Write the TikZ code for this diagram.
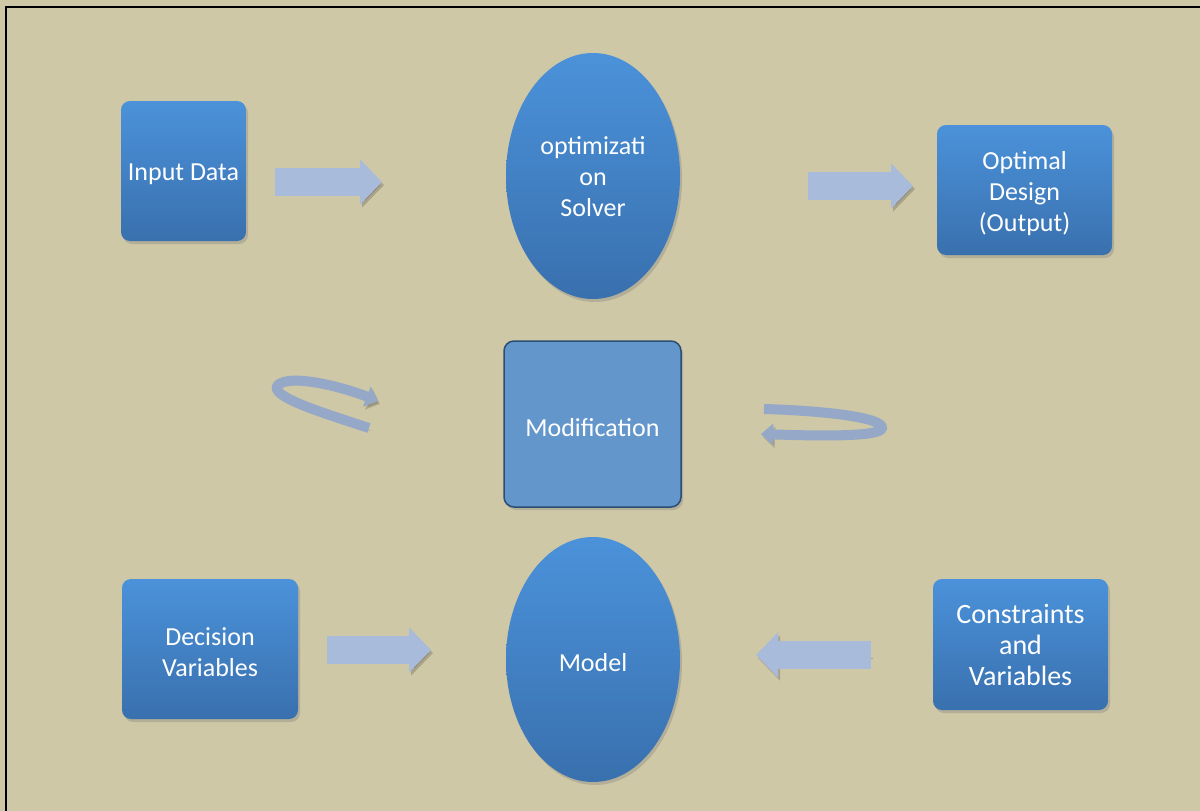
\documentclass[tikz,border=0pt]{standalone}
\usepackage{fontspec}
\setmainfont{Carlito}
\usetikzlibrary{shadows,arrows.meta,shapes.geometric}
\definecolor{bgc}{HTML}{CEC8A6}
\definecolor{boxtop}{HTML}{4B92DA}
\definecolor{boxbot}{HTML}{3970AE}
\definecolor{arrc}{HTML}{A8BBDA}
\definecolor{arrd}{HTML}{95A8C8}
\definecolor{modfill}{HTML}{6396CB}
\definecolor{modline}{HTML}{2C4D74}
\tikzset{
  shade/.style={drop shadow={opacity=0.35,shadow xshift=2pt,shadow yshift=-3pt}},
  txt/.style={text=white,font=\fontsize{26}{31}\selectfont,align=center,inner sep=0pt},
  box/.style={rectangle,rounded corners=9pt,top color=boxtop,bottom color=boxbot,draw=none,shade,inner sep=0pt},
  oval/.style={ellipse,top color=boxtop,bottom color=boxbot,draw=none,shade,inner sep=0pt,
    minimum width=174pt,minimum height=246pt},
  modbox/.style={rectangle,rounded corners=10pt,fill=modfill,draw=modline,line width=1.5pt,shade,inner sep=0pt},
  blockarr/.style={draw=arrc,line width=28pt,-{Triangle[length=22pt,width=44pt]},
    preaction={draw=black,opacity=0.18,transform canvas={shift={(2pt,-3pt)}}}},
  looparr/.style={draw=arrd,line width=10pt,line cap=butt,-{Triangle[length=12pt,width=21pt]},
    preaction={draw=black,opacity=0.15,transform canvas={shift={(2pt,-3pt)}}}},
}
\begin{document}
\begin{tikzpicture}[x=1pt,y=-1pt]
\useasboundingbox (0,0) rectangle (1200,811);
\fill[bgc] (0,0) rectangle (1200,811);
\draw[black,line width=2pt] (1200,7) -- (6,7) -- (6,811);
% nodes
\node[box,minimum width=125pt,minimum height=140pt,
  label={[txt,yshift=-3.5pt]center:Input Data}] (input) at (183.5,171) {};
\node[oval,label={[txt,yshift=-1pt]center:optimizati\\on\\Solver}] (solver) at (593,176) {};
\node[box,minimum width=175pt,minimum height=130pt,
  label={[txt,yshift=-3.5pt]center:Optimal\\Design\\(Output)}] (optimal) at (1024.5,190) {};
\node[modbox,minimum width=177pt,minimum height=166pt,
  label={[txt,yshift=-3.5pt]center:Modification}] (modif) at (592.5,424) {};
\node[oval,minimum height=245pt,label={[txt,yshift=-3pt]center:Model}] (model) at (593,659.5) {};
\node[box,minimum width=176pt,minimum height=140pt,
  label={[txt,yshift=-3pt]center:Decision\\Variables}] (decision) at (210,649) {};
\node[box,minimum width=175pt,minimum height=131pt,
  label={[txt,font=\fontsize{28}{31}\selectfont,yshift=0pt]center:Constraints\\and\\Variables}] (constr) at (1020.5,644.5) {};
% block arrows
\coordinate (a1s) at (275,182); \coordinate (a1e) at (382,182);
\coordinate (a2s) at (808,186); \coordinate (a2e) at (913,186);
\coordinate (a3s) at (327,650); \coordinate (a3e) at (431,650);
\coordinate (a4s) at (871,655); \coordinate (a4e) at (756,655);
\draw[blockarr] (a1s) -- (a1e);
\draw[blockarr] (a2s) -- (a2e);
\draw[blockarr] (a3s) -- (a3e);
\draw[blockarr] (a4s) -- (a4e);
% loop arrows
\coordinate (l1s) at (369,428); \coordinate (l1e) at (378,401);
\draw[looparr] (l1s) .. controls (320,412) and (268,396) .. (278,385)
  .. controls (290,374) and (340,386) .. (l1e);
\coordinate (r1s) at (764,409); \coordinate (r1e) at (761,434);
\draw[looparr] (r1s) .. controls (830,411) and (883,418) .. (882,428)
  .. controls (881,437) and (820,436) .. (r1e);
\end{tikzpicture}
\end{document}
